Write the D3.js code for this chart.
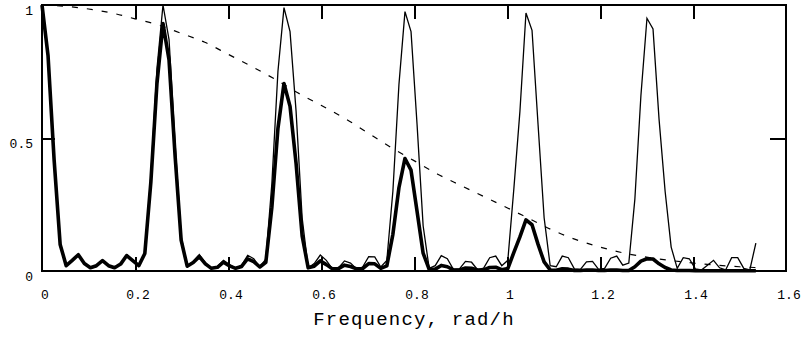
<!DOCTYPE html>
<html>
<head>
<meta charset="utf-8">
<script src="https://cdn.jsdelivr.net/npm/d3@7"></script>
<style>
  html, body { margin: 0; padding: 0; background: #fff; }
  svg { display: block; }
  text { font-family: "Liberation Mono", "DejaVu Sans Mono", monospace; fill: #000; }
</style>
</head>
<body>
<svg id="chart" width="801" height="339"></svg>
<script>
// ---- data ----
const freqStep = 0.01301;        // spacing of the frequency grid, rad/h
// thin line: spectral window (sampled periodogram)
const windowValues = [
  1.000, 0.810, 0.420, 0.100, 0.020, 0.040, 0.062, 0.028, 0.012, 0.020,
  0.040, 0.021, 0.012, 0.027, 0.061, 0.041, 0.020, 0.070, 0.360, 0.760,
  1.000, 0.870, 0.480, 0.130, 0.018, 0.036, 0.062, 0.031, 0.010, 0.017,
  0.040, 0.024, 0.010, 0.022, 0.059, 0.046, 0.015, 0.045, 0.330, 0.750,
  0.990, 0.900, 0.600, 0.200, 0.012, 0.028, 0.060, 0.040, 0.008, 0.012,
  0.038, 0.030, 0.008, 0.015, 0.054, 0.053, 0.015, 0.040, 0.300, 0.700,
  0.975, 0.900, 0.550, 0.170, 0.010, 0.020, 0.058, 0.046, 0.006, 0.008,
  0.036, 0.033, 0.005, 0.011, 0.050, 0.056, 0.020, 0.040, 0.310, 0.600,
  0.970, 0.905, 0.550, 0.200, 0.020, 0.016, 0.056, 0.050, 0.008, 0.006,
  0.034, 0.036, 0.006, 0.010, 0.048, 0.056, 0.022, 0.030, 0.270, 0.660,
  0.950, 0.910, 0.570, 0.300, 0.090, 0.010, 0.050, 0.046, 0.008, 0.004,
  0.022, 0.040, 0.012, 0.004, 0.050, 0.050, 0.010, 0.004, 0.105
];
// thick line: windowed spectrum
const spectrumValues = [
  1.000, 0.809, 0.419, 0.100, 0.020, 0.040, 0.061, 0.028, 0.012, 0.020,
  0.039, 0.020, 0.012, 0.026, 0.058, 0.039, 0.020, 0.066, 0.336, 0.704,
  0.930, 0.793, 0.433, 0.116, 0.018, 0.032, 0.054, 0.027, 0.010, 0.014,
  0.033, 0.019, 0.010, 0.017, 0.046, 0.035, 0.015, 0.033, 0.240, 0.536,
  0.705, 0.619, 0.404, 0.132, 0.012, 0.018, 0.038, 0.024, 0.008, 0.009,
  0.022, 0.017, 0.008, 0.009, 0.028, 0.027, 0.010, 0.019, 0.138, 0.313,
  0.423, 0.379, 0.224, 0.067, 0.006, 0.007, 0.021, 0.016, 0.004, 0.004,
  0.011, 0.010, 0.004, 0.004, 0.013, 0.014, 0.005, 0.009, 0.070, 0.128,
  0.192, 0.174, 0.100, 0.034, 0.004, 0.003, 0.008, 0.007, 0.002, 0.002,
  0.004, 0.004, 0.002, 0.002, 0.004, 0.004, 0.002, 0.002, 0.016, 0.037,
  0.046, 0.045, 0.027, 0.013, 0.004, 0.002, 0.002, 0.002, 0.001, 0.001,
  0.001, 0.001, 0.001, 0.001, 0.001, 0.001, 0.001, 0.001, 0.001
];
// dashed line: taper (smooth curve)
const taperFreq   = [0.00, 0.05, 0.10, 0.15, 0.20, 0.25, 0.30, 0.35, 0.40, 0.45,
                     0.50, 0.55, 0.60, 0.65, 0.70, 0.75, 0.80, 0.85, 0.90, 0.95,
                     1.00, 1.05, 1.10, 1.15, 1.20, 1.25, 1.30, 1.35, 1.40, 1.45,
                     1.50, 1.535];
const taperValues = [1.000, 0.995, 0.985, 0.970, 0.948, 0.925, 0.893, 0.860, 0.815, 0.770,
                     0.722, 0.670, 0.623, 0.575, 0.520, 0.465, 0.415, 0.365, 0.322, 0.280,
                     0.238, 0.195, 0.152, 0.117, 0.090, 0.068, 0.052, 0.040, 0.030, 0.022,
                     0.016, 0.013];
const xTickValues = [0, 0.2, 0.4, 0.6, 0.8, 1, 1.2, 1.4, 1.6];
const yTickValues = [0, 0.5, 1];
const xTitle = "Frequency, rad/h";

// ---- layout ----
(function () {
const svg = d3.select("#chart");
const pL = 42, pR = 786, pT = 5, pB = 271;
const x = d3.scaleLinear().domain([0, 1.6]).range([pL, pR]);
const y = d3.scaleLinear().domain([0, 1]).range([pB, pT]);

// frame
svg.append("rect")
  .attr("x", pL).attr("y", pT)
  .attr("width", pR - pL).attr("height", pB - pT)
  .attr("fill", "none").attr("stroke", "#000").attr("stroke-width", 2)
  .attr("shape-rendering", "crispEdges");

const inner = xTickValues.filter(v => v > 0 && v < 1.6);
function styleTicks(g) {
  g.select(".domain").remove();
  g.selectAll(".tick line").attr("stroke", "#000").attr("stroke-width", 2)
    .attr("shape-rendering", "crispEdges");
}
svg.append("g").attr("transform", `translate(0,${pB})`)
  .call(d3.axisBottom(x).tickValues(inner).tickSize(-14).tickFormat(""))
  .call(styleTicks);
svg.append("g").attr("transform", `translate(0,${pT})`)
  .call(d3.axisTop(x).tickValues(inner).tickSize(-14).tickFormat(""))
  .call(styleTicks);
svg.append("g").attr("transform", `translate(${pL},0)`)
  .call(d3.axisLeft(y).tickValues([0.5]).tickSize(-13).tickFormat(""))
  .call(styleTicks);
svg.append("g").attr("transform", `translate(${pR},0)`)
  .call(d3.axisRight(y).tickValues([0.5]).tickSize(-16).tickFormat(""))
  .call(styleTicks);

// tick labels
const xl = svg.append("g").attr("transform", `translate(0,${pB})`)
  .call(d3.axisBottom(x).tickValues(xTickValues).tickSize(0).tickFormat(d3.format("")));
xl.select(".domain").remove();
xl.selectAll("text").attr("y", 28).attr("dy", 0).attr("dx", 2.5)
  .attr("font-size", 13).attr("font-family", "Liberation Mono").attr("fill", "#000");

const yl = svg.append("g").attr("transform", `translate(33,0)`)
  .call(d3.axisLeft(y).tickValues(yTickValues).tickSize(0).tickFormat(d3.format("")));
yl.select(".domain").remove();
yl.selectAll("text").attr("x", 0).attr("dy", 9)
  .attr("font-size", 13).attr("font-family", "Liberation Mono").attr("fill", "#000");

// axis title
svg.append("text")
  .attr("x", (pL + pR) / 2).attr("y", 325)
  .attr("text-anchor", "middle")
  .attr("font-size", 19).attr("letter-spacing", 1.2)
  .text(xTitle);

// ---- series ----
const lineIdx = d3.line().x((d, i) => x(i * freqStep)).y(d => y(d));

svg.append("path").datum(windowValues)
  .attr("d", lineIdx)
  .attr("fill", "none").attr("stroke", "#000").attr("stroke-width", 1.3)
  .attr("stroke-linejoin", "miter");

svg.append("path").datum(spectrumValues)
  .attr("d", lineIdx)
  .attr("fill", "none").attr("stroke", "#000").attr("stroke-width", 3.6)
  .attr("stroke-linejoin", "round");

const taperLine = d3.line().curve(d3.curveMonotoneX)
  .x((d, i) => x(taperFreq[i])).y(d => y(d));
svg.append("path").datum(taperValues)
  .attr("d", taperLine)
  .attr("fill", "none").attr("stroke", "#000").attr("stroke-width", 1.2)
  .attr("stroke-dasharray", "6,9");
})();
</script>
</body>
</html>
